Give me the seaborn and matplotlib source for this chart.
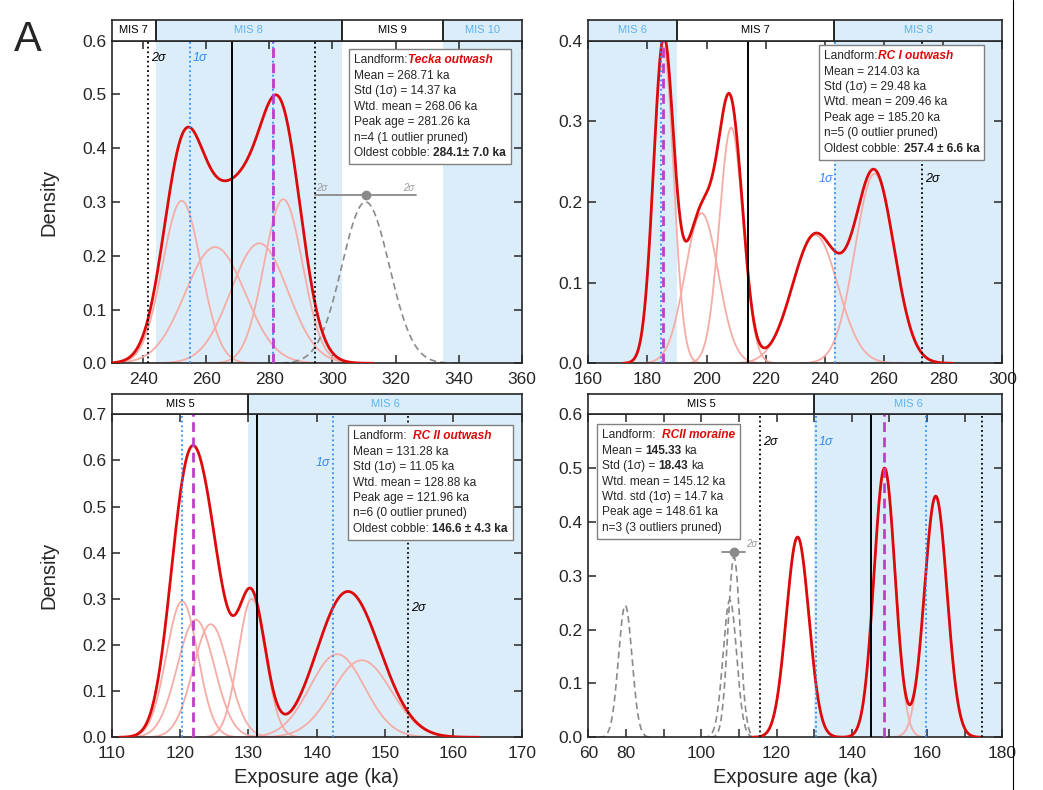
import numpy as np
import pandas as pd
import matplotlib
matplotlib.use("Agg")
import matplotlib.pyplot as plt
from matplotlib.patches import Rectangle
from matplotlib.lines import Line2D
from matplotlib.transforms import Bbox
from matplotlib.ticker import FormatStrFormatter
import seaborn as sns

# ---------------- values ----------------
# every sample: peak age (ka), 1-sigma width (ka), peak height of its curve

# A - Tecka outwash
tecka_age = [252.2, 262.8, 276.8, 284.4]
tecka_sd = [6.1, 9.5, 9.0, 6.1]
tecka_ht = [0.302, 0.216, 0.223, 0.305]
tecka_out_age = [310.5]
tecka_out_sd = [7.5]
tecka_out_ht = [0.300]
tecka_err = [310.5, 16.0, 0.313]          # centre, 2-sigma half width, height
tecka_mean = 268.06
tecka_1s = [254.86, 281.26]
tecka_2s = [241.66, 294.46]
tecka_peak = 281.26
tecka_mis_edges = [230, 244, 303, 335, 360]
tecka_mis = ["MIS 7", "MIS 8", "MIS 9", "MIS 10"]
tecka_lines = ["Mean = 268.71 ka", "Std (1σ) = 14.37 ka", "Wtd. mean = 268.06 ka",
               "Peak age = 281.26 ka", "n=4 (1 outlier pruned)",
               "Oldest cobble: **284.1± 7.0 ka**"]

# B - RC I outwash
rc1_age = [185.4, 198.3, 208.3, 236.7, 256.8]
rc1_sd = [3.4, 5.6, 4.0, 7.7, 6.6]
rc1_ht = [0.392, 0.186, 0.292, 0.159, 0.235]
rc1_mean = 214.03
rc1_1s = [184.55, 243.51]
rc1_2s = [272.99]
rc1_peak = 185.20
rc1_mis_edges = [160, 190, 243, 300]
rc1_mis = ["MIS 6", "MIS 7", "MIS 8"]
rc1_lines = ["Mean = 214.03 ka", "Std (1σ) = 29.48 ka", "Wtd. mean = 209.46 ka",
             "Peak age = 185.20 ka", "n=5 (0 outlier pruned)",
             "Oldest cobble: **257.4 ± 6.6 ka**"]

# C - RC II outwash
rc2_age = [120.3, 122.3, 124.5, 130.5, 143.0, 146.6]
rc2_sd = [2.3, 2.7, 2.6, 2.0, 4.0, 4.3]
rc2_ht = [0.295, 0.255, 0.245, 0.300, 0.180, 0.167]
rc2_mean = 131.28
rc2_1s = [120.23, 142.33]
rc2_2s = [153.38]
rc2_peak = 121.96
rc2_mis_edges = [110, 130, 170]
rc2_mis = ["MIS 5", "MIS 6"]
rc2_lines = ["Mean = 131.28 ka", "Std (1σ) = 11.05 ka", "Wtd. mean = 128.88 ka",
             "Peak age = 121.96 ka", "n=6 (0 outlier pruned)",
             "Oldest cobble: **146.6 ± 4.3 ka**"]

# D - RCII moraine
mor_age = [125.6, 148.7, 162.3]
mor_sd = [3.0, 2.8, 3.0]
mor_ht = [0.372, 0.500, 0.448]
mor_out_age = [79.8, 107.6, 108.7]
mor_out_sd = [1.8, 1.8, 1.6]
mor_out_ht = [0.245, 0.255, 0.335]
mor_err = [108.6, 3.0, 0.345]
mor_mean = 145.12
mor_1s = [130.42, 159.82]
mor_2s = [115.72, 174.52]
mor_peak = 148.61
mor_mis_edges = [70, 130, 180]
mor_mis = ["MIS 5", "MIS 6"]
mor_lines = ["Mean = **145.33** ka", "Std (1σ) = **18.43** ka", "Wtd. mean = 145.12 ka",
             "Wtd. std (1σ) = 14.7 ka", "Peak age = 148.61 ka", "n=3 (3 outliers pruned)"]
mor_xticks = [70, 80, 90, 100, 110, 120, 130, 140, 150, 160, 170, 180]
mor_xticklabels = ["60", "80", "", "100", "", "120", "", "140", "", "160", "", "180"]

RED = "#dc0a0a"
PINK = "#f6aca6"
SHADE = "#dcedfa"
MIS_BLUE = "#5cb3ee"
BLUE = "#2f8cf0"
MAGENTA = "#c23ccb"
GREY = "#8a8a8a"

sns.set_style("ticks")
plt.rcParams["font.family"] = ["Liberation Sans", "DejaVu Sans"]
plt.rcParams["axes.linewidth"] = 1.2


def gauss(x, mu, sd, h):
    return h * np.exp(-0.5 * ((x - mu) / sd) ** 2)


def one_curve(mu, sd, h):
    x = np.linspace(mu - 4 * sd, mu + 4 * sd, 400)
    return pd.DataFrame({"age": x, "density": gauss(x, mu, sd, h)})


def summed(ages, sds, hts):
    lo = min(a - 4 * s for a, s in zip(ages, sds))
    hi = max(a + 4 * s for a, s in zip(ages, sds))
    x = np.linspace(lo, hi, 1500)
    y = sum(gauss(x, a, s, h) for a, s, h in zip(ages, sds, hts))
    return pd.DataFrame({"age": x, "density": y})


def info_box(ax, x, y, head, name, lines, fs=8.6, lh=11.1):
    arts = []
    first = ax.annotate(head, xy=(x, y), xycoords="axes fraction", va="baseline",
                        ha="left", fontsize=fs, zorder=12)
    nm = ax.annotate(name, xy=(1, y), xycoords=(first, "axes fraction"),
                     xytext=(0.28 * fs if head.endswith(" ") else 0, 0), textcoords="offset points",
                     va="baseline", ha="left", fontsize=fs, color=RED,
                     fontweight="bold", fontstyle="italic", zorder=12)
    arts += [first, nm]
    for i, line in enumerate(lines, start=1):
        prev = None
        space = False
        for j, part in enumerate(line.split("**")):
            if part.startswith(" "):
                space = True
            txt = part.strip()
            if txt:
                w = "bold" if j % 2 else "normal"
                if prev is None:
                    t = ax.annotate(txt, xy=(x, y), xycoords="axes fraction",
                                    xytext=(0, -i * lh), textcoords="offset points",
                                    va="baseline", ha="left", fontsize=fs, fontweight=w, zorder=12)
                else:
                    t = ax.annotate(txt, xy=(1, y), xycoords=(prev, "axes fraction"),
                                    xytext=(0.28 * fs if space else 0, -i * lh),
                                    textcoords="offset points", va="baseline", ha="left",
                                    fontsize=fs, fontweight=w, zorder=12)
                prev = t
                arts.append(t)
                space = False
            if part.endswith(" "):
                space = True
    return arts


def mis_strip(fig, rect, xlim, edges, names):
    s = fig.add_axes(rect)
    s.set_xlim(xlim)
    s.set_ylim(0, 1)
    for lo, hi, nm in zip(edges[:-1], edges[1:], names):
        glacial = int(nm.split()[1]) % 2 == 0
        if glacial:
            s.axvspan(lo, hi, color=SHADE, lw=0)
        s.text((lo + hi) / 2, 0.5, nm, ha="center", va="center", fontsize=8,
               color=MIS_BLUE if glacial else "black")
    for e in edges[1:-1]:
        s.axvline(e, color="black", lw=1.2)
    s.set_xticks([])
    s.set_yticks([])
    return s


panels = [
    dict(rect=[0.1071, 0.5401, 0.3931, 0.4086], xlim=(230, 360), ylim=(0, 0.6),
         xticks=np.arange(240, 361, 20), xlabels=None, yticks=np.arange(0, 0.61, 0.1),
         ages=tecka_age, sds=tecka_sd, hts=tecka_ht,
         out=(tecka_out_age, tecka_out_sd, tecka_out_ht), err=tecka_err, err_labels="both",
         mean=tecka_mean, s1=tecka_1s, s2=tecka_2s, peak=tecka_peak,
         mis=(tecka_mis_edges, tecka_mis),
         s_labels=[("2σ", 241.66, 0.567, "left", "black"), ("1σ", 254.86, 0.567, "left", BLUE)],
         box=(0.591, 0.929, "Landform:", "Tecka outwash", tecka_lines),
         ylabel=True, xlabel=False),
    dict(rect=[0.5641, 0.5401, 0.3969, 0.4086], xlim=(160, 300), ylim=(0, 0.4),
         xticks=np.arange(160, 301, 20), xlabels=None, yticks=np.arange(0, 0.41, 0.1),
         ages=rc1_age, sds=rc1_sd, hts=rc1_ht, out=None, err=None, err_labels=None,
         mean=rc1_mean, s1=rc1_1s, s2=rc1_2s, peak=rc1_peak,
         mis=(rc1_mis_edges, rc1_mis),
         s_labels=[("1σ", 243.51, 0.228, "right", BLUE), ("2σ", 272.99, 0.228, "left", "black")],
         box=(0.570, 0.942, "Landform:", "RC I outwash", rc1_lines),
         ylabel=False, xlabel=False),
    dict(rect=[0.1071, 0.0667, 0.3931, 0.4089], xlim=(110, 170), ylim=(0, 0.7),
         xticks=np.arange(110, 171, 10), xlabels=None, yticks=np.arange(0, 0.71, 0.1),
         ages=rc2_age, sds=rc2_sd, hts=rc2_ht, out=None, err=None, err_labels=None,
         mean=rc2_mean, s1=rc2_1s, s2=rc2_2s, peak=rc2_peak,
         mis=(rc2_mis_edges, rc2_mis),
         s_labels=[("1σ", 142.33, 0.594, "right", BLUE), ("2σ", 153.38, 0.28, "left", "black")],
         box=(0.589, 0.9226, "Landform: ", "RC II outwash", rc2_lines),
         ylabel=True, xlabel=True),
    dict(rect=[0.5641, 0.0667, 0.3969, 0.4089], xlim=(70, 180), ylim=(0, 0.6),
         xticks=mor_xticks, xlabels=mor_xticklabels, yticks=np.arange(0, 0.61, 0.1),
         ages=mor_age, sds=mor_sd, hts=mor_ht,
         out=(mor_out_age, mor_out_sd, mor_out_ht), err=mor_err, err_labels="right",
         mean=mor_mean, s1=mor_1s, s2=mor_2s, peak=mor_peak,
         mis=(mor_mis_edges, mor_mis),
         s_labels=[("2σ", 115.72, 0.549, "left", "black"), ("1σ", 130.42, 0.549, "left", BLUE)],
         box=(0.032, 0.9257, "Landform: ", "RCII moraine", mor_lines),
         ylabel=False, xlabel=True),
]

fig = plt.figure(figsize=(10.43, 7.90), dpi=100)
boxes = []

for p in panels:
    ax = fig.add_axes(p["rect"])
    x0, x1 = p["xlim"]
    edges, names = p["mis"]
    for lo, hi, nm in zip(edges[:-1], edges[1:], names):
        if int(nm.split()[1]) % 2 == 0:
            ax.axvspan(lo, hi, color=SHADE, lw=0, zorder=0)

    # individual sample curves
    for a, s, h in zip(p["ages"], p["sds"], p["hts"]):
        sns.lineplot(data=one_curve(a, s, h), x="age", y="density", ax=ax, color=PINK,
                     lw=1.3, estimator=None, sort=False, zorder=2)
    if p["out"] is not None:
        for a, s, h in zip(*p["out"]):
            sns.lineplot(data=one_curve(a, s, h), x="age", y="density", ax=ax, color=GREY,
                         lw=1.2, linestyle=(0, (4, 2.5)), estimator=None, sort=False, zorder=2)
    sns.lineplot(data=summed(p["ages"], p["sds"], p["hts"]), x="age", y="density", ax=ax,
                 color=RED, lw=2.0, estimator=None, sort=False, zorder=3)

    # outlier 2-sigma bar
    if p["err"] is not None:
        c, hw, yv = p["err"]
        ax.plot([c - hw, c + hw], [yv, yv], color=GREY, lw=1.3, zorder=3)
        ax.plot([c], [yv], "o", color=GREY, ms=6, zorder=3)
        if p["err_labels"] == "both":
            ax.text(c - hw + 0.4, yv + 0.004, "2σ", fontsize=7, style="italic", color="#9a9a9a",
                    ha="left", va="bottom")
        ax.text(c + hw - (0.4 if p["err_labels"] == "both" else -0.3), yv + 0.004, "2σ",
                fontsize=7, style="italic", color="#9a9a9a",
                ha="right" if p["err_labels"] == "both" else "left", va="bottom")

    # summary lines
    for v in p["s2"]:
        ax.axvline(v, color="black", lw=1.3, linestyle=(0, (1, 1.6)), zorder=4)
    for v in p["s1"]:
        ax.axvline(v, color=BLUE, lw=1.3, linestyle=(0, (1, 1.6)), zorder=4)
    ax.axvline(p["mean"], color="black", lw=1.4, zorder=4)
    ax.axvline(p["peak"], color=MAGENTA, lw=2.0, linestyle=(0, (3.5, 2)), zorder=5)

    for lab, xv, yv, side, col in p["s_labels"]:
        dx = (x1 - x0) * 0.006
        ax.text(xv + dx if side == "left" else xv - dx, yv, lab, ha=side, va="center",
                fontsize=9, style="italic", color=col, zorder=6)

    ax.set_xlim(x0, x1)
    ax.set_ylim(*p["ylim"])
    ax.set_xticks(p["xticks"])
    if p["xlabels"] is not None:
        ax.set_xticklabels(p["xlabels"])
    ax.set_yticks(p["yticks"])
    ax.yaxis.set_major_formatter(FormatStrFormatter("%.1f"))
    ax.tick_params(direction="in", top=True, right=True, length=6, width=1.1,
                   labelsize=12.5)
    ax.tick_params(axis="x", pad=6)
    ax.tick_params(axis="y", pad=4)
    ax.set_xlabel("Exposure age (ka)" if p["xlabel"] else "", fontsize=14.5)
    ax.set_ylabel("Density" if p["ylabel"] else "", fontsize=14.5)
    ax.yaxis.set_label_coords(-0.13, 0.5)
    ax.xaxis.set_label_coords(0.5, -0.095)
    for sp in ax.spines.values():
        sp.set_visible(True)

    r = p["rect"]
    mis_strip(fig, [r[0], r[1] + r[3], r[2], 0.0255], (x0, x1), edges, names)

    bx, by, head, name, lines = p["box"]
    boxes.append((ax, info_box(ax, bx, by, head, name, lines)))

fig.text(0.013, 0.975, "A", fontsize=30, ha="left", va="top")
fig.add_artist(Line2D([0.9712, 0.9712], [0, 1], transform=fig.transFigure, color="black", lw=0.8))

# white frames behind the statistics text
fig.canvas.draw()
renderer = fig.canvas.get_renderer()
for ax, arts in boxes:
    bb = Bbox.union([a.get_window_extent(renderer) for a in arts])
    pad = 5
    (u0, v0) = ax.transAxes.inverted().transform((bb.x0 - pad, bb.y0 - pad))
    (u1, v1) = ax.transAxes.inverted().transform((bb.x1 + pad, bb.y1 + pad))
    ax.add_patch(Rectangle((u0, v0), u1 - u0, v1 - v0, transform=ax.transAxes,
                           fc="white", ec="#808080", lw=1.0, zorder=11))

fig.savefig("out.png", dpi=100)
plt.close(fig)
